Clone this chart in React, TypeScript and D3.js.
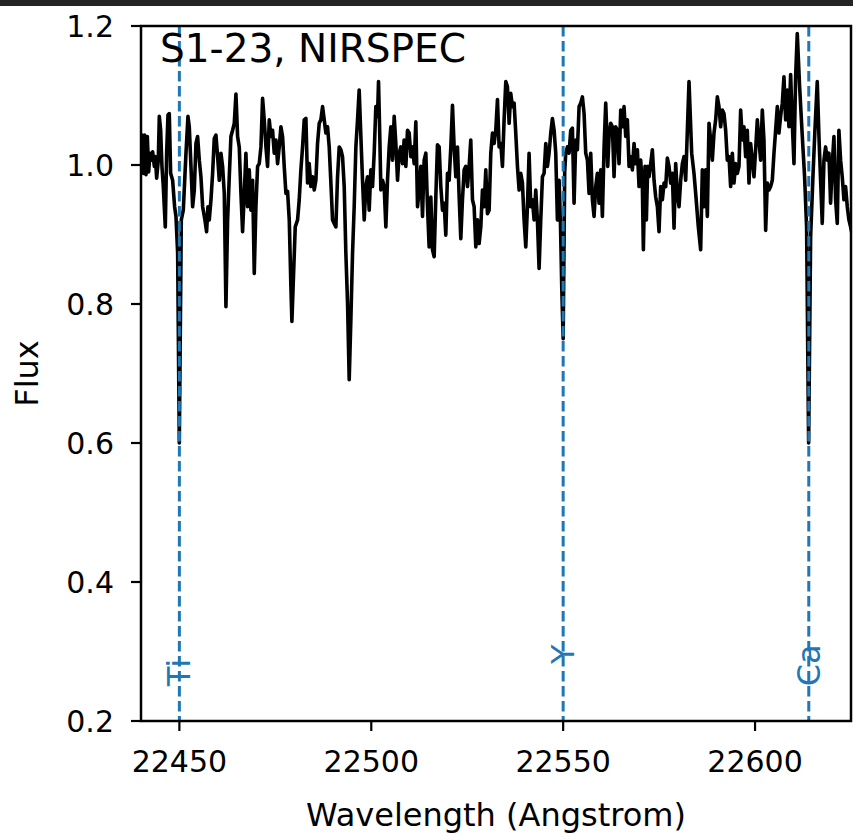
import React from "react";
import * as d3 from "d3";

const wavelength = [
  22439.8, 22440.26, 22440.6, 22440.95, 22441.3, 22441.65, 22441.99, 22442.34, 22442.69, 22443.03, 22443.47, 22443.73, 22444.08, 22444.51, 22444.77, 22445.12, 22445.46, 22445.81, 22446.33, 22446.68, 22447.03, 22447.37, 22447.72, 22448.24, 22448.76, 22449.11, 22449.55, 22449.98, 22450.5, 22451.02, 22451.72, 22452.24, 22452.58, 22453.02, 22453.45, 22453.89, 22454.32, 22454.75, 22455.19, 22455.62, 22456.06, 22456.66, 22457.09, 22457.44, 22457.79, 22458.23, 22458.66, 22459.09, 22459.53, 22459.96, 22460.4, 22460.83, 22461.26, 22461.7, 22462.13, 22462.57, 22463.0, 22463.43, 22463.87, 22464.3, 22464.74, 22465.17, 22465.6, 22466.04, 22466.47, 22466.91, 22467.34,
  22467.77, 22468.21, 22468.64, 22469.08, 22469.51, 22469.94, 22470.38, 22470.81, 22471.25, 22471.68, 22472.11, 22472.55, 22472.98, 22473.42, 22473.85, 22474.28, 22474.72, 22475.15, 22475.59, 22476.02, 22476.46, 22476.89, 22477.32, 22477.76, 22478.19, 22478.63, 22479.06, 22479.32, 22479.67, 22480.19, 22480.8, 22481.23, 22481.66, 22482.1, 22482.53, 22482.97, 22483.4, 22483.83, 22484.27, 22484.7, 22485.14, 22485.57, 22486.0, 22486.44, 22486.87, 22487.31, 22487.74, 22488.17, 22488.61, 22489.04, 22489.48, 22489.91, 22490.34, 22490.78, 22491.21, 22491.65, 22492.08, 22492.51, 22492.95, 22493.38, 22493.82, 22494.25, 22494.68, 22495.12, 22495.55, 22495.99, 22496.42, 22496.85, 22497.29, 22497.72, 22498.16, 22498.59,
  22499.02, 22499.46, 22499.89, 22500.33, 22500.76, 22501.19, 22501.63, 22501.89, 22502.24, 22502.5, 22502.93, 22503.36, 22503.8, 22504.23, 22504.67, 22505.1, 22505.53, 22505.97, 22506.4, 22506.84, 22507.27, 22507.7, 22508.14, 22508.57, 22509.01, 22509.44, 22509.88, 22510.31, 22510.74, 22511.18, 22511.61, 22512.05, 22512.48, 22512.91, 22513.35, 22513.78, 22514.22, 22514.65, 22515.08, 22515.52, 22515.95, 22516.39, 22516.82, 22517.25, 22517.69, 22518.12, 22518.56, 22518.99, 22519.42, 22519.86, 22520.29, 22520.73, 22521.16, 22521.59, 22522.03, 22522.46, 22522.9, 22523.33, 22523.76, 22524.2, 22524.63, 22525.07, 22525.5, 22525.93, 22526.37, 22526.8, 22527.24, 22527.67, 22528.1, 22528.54, 22528.97, 22529.41, 22529.84,
  22530.27, 22530.71, 22531.14, 22531.58, 22532.01, 22532.44, 22532.88, 22533.31, 22533.75, 22534.18, 22534.61, 22535.05, 22535.48, 22535.92, 22536.35, 22536.78, 22537.22, 22537.65, 22538.09, 22538.52, 22538.95, 22539.39, 22539.82, 22540.26, 22540.69, 22541.12, 22541.56, 22541.99, 22542.43, 22542.86, 22543.29, 22543.73, 22544.16, 22544.6, 22545.03, 22545.47, 22545.9, 22546.33, 22546.77, 22547.2, 22547.64, 22548.07, 22548.5, 22548.94, 22549.28, 22549.63, 22550.0, 22550.4, 22550.67, 22551.11, 22551.54, 22551.98, 22552.41, 22552.84, 22553.28, 22553.71, 22554.15, 22554.58, 22555.01, 22555.45, 22555.88, 22556.32, 22556.75, 22557.18, 22557.62, 22558.05, 22558.49, 22558.92, 22559.35, 22559.79, 22560.22, 22560.66, 22561.09,
  22561.35, 22561.61, 22561.96, 22562.39, 22562.83, 22563.26, 22563.69, 22564.13, 22564.56, 22565.0, 22565.43, 22565.86, 22566.3, 22566.73, 22567.17, 22567.6, 22568.03, 22568.47, 22568.9, 22569.34, 22569.77, 22570.2, 22570.64, 22570.9, 22571.33, 22571.68, 22572.03, 22572.38, 22572.81, 22573.24, 22573.68, 22574.11, 22574.55, 22574.98, 22575.41, 22575.85, 22576.28, 22576.72, 22577.15, 22577.58, 22578.02, 22578.45, 22578.89, 22579.32, 22579.75, 22580.19, 22580.62, 22581.06, 22581.49, 22581.92, 22582.36, 22582.79, 22583.49, 22584.09, 22584.53, 22585.22, 22585.83, 22586.26, 22586.7, 22587.13, 22587.57, 22588.0, 22588.43, 22588.87, 22589.3, 22589.74, 22590.17, 22590.6, 22591.04, 22591.47, 22591.91, 22592.34,
  22592.77, 22593.21, 22593.64, 22594.08, 22594.51, 22594.94, 22595.38, 22595.81, 22596.25, 22596.68, 22597.11, 22597.55, 22597.98, 22598.42, 22598.85, 22599.28, 22599.72, 22600.15, 22600.59, 22601.02, 22601.45, 22601.89, 22602.32, 22602.76, 22603.19, 22603.63, 22604.06, 22604.49, 22604.93, 22605.36, 22605.8, 22606.23, 22606.66, 22607.1, 22607.53, 22607.97, 22608.4, 22608.83, 22609.27, 22609.7, 22610.14, 22610.57, 22611.0, 22611.61, 22612.31, 22612.91, 22613.43, 22613.96, 22614.48, 22615.08, 22615.6, 22616.21, 22616.65, 22617.08, 22617.51, 22617.95, 22618.38, 22618.82, 22619.25, 22619.68, 22620.12, 22620.55, 22620.99, 22621.42, 22621.85, 22622.29, 22622.72, 22623.16, 22623.59, 22624.03, 22624.46, 22624.89, 22625.3,
];

const flux = [
  1.03, 1.043, 0.988, 1.043, 0.986, 1.041, 0.99, 1.017, 1.007, 1.019, 0.998, 1.012, 0.981, 1.007, 1.07, 1.05, 0.998, 0.969, 0.911, 1.017, 1.072, 1.074, 0.988, 0.978, 0.94, 0.926, 0.873, 0.6, 0.921, 0.935, 1.017, 1.07, 1.055, 0.998, 0.94, 0.964, 1.031, 1.041, 1.007, 0.983, 0.94, 0.921, 0.904, 0.94, 0.921, 0.95, 0.988, 1.038, 1.043, 1.012, 0.978, 1.017, 0.998, 0.959, 0.796, 0.921, 0.983, 1.041, 1.05, 1.06, 1.102, 1.041, 1.026, 0.959, 0.904, 0.959, 1.017,
  0.94, 0.993, 0.935, 0.978, 0.844, 0.94, 0.998, 1.002, 1.026, 1.096, 1.065, 1.026, 0.998, 1.065, 1.041, 1.05, 1.017, 1.036, 1.002, 1.026, 1.055, 1.041, 0.998, 0.959, 0.962, 0.921, 0.825, 0.775, 0.83, 0.911, 0.921, 0.95, 0.993, 1.026, 1.065, 1.067, 0.974, 1.002, 0.969, 0.983, 0.964, 0.978, 1.031, 1.06, 1.065, 1.084, 1.065, 1.046, 1.055, 1.026, 0.974, 0.921, 0.916, 0.911, 0.983, 1.026, 1.022, 1.012, 0.969, 0.873, 0.801, 0.691, 0.777, 0.873, 0.94, 1.026, 1.065, 1.108, 1.041, 0.978, 0.921, 0.969,
  0.983, 0.935, 0.993, 0.969, 1.017, 1.084, 1.07, 1.12, 1.036, 0.964, 0.978, 0.969, 0.911, 0.978, 1.026, 1.055, 1.007, 1.07, 1.031, 0.978, 1.017, 1.026, 1.002, 1.036, 0.998, 1.05, 1.046, 1.012, 1.026, 1.002, 1.062, 0.94, 0.964, 0.998, 0.926, 1.007, 1.017, 0.94, 0.882, 0.954, 0.878, 0.868, 0.954, 1.029, 1.026, 0.969, 0.935, 0.945, 0.899, 0.988, 0.978, 1.026, 1.086, 1.026, 0.983, 1.026, 0.954, 0.894, 0.95, 0.993, 0.998, 0.969, 0.998, 1.036, 0.95, 0.94, 0.882, 0.921, 0.887, 0.911, 0.964, 0.94, 0.993,
  0.93, 0.935, 1.017, 1.046, 1.031, 1.05, 1.094, 1.026, 1.031, 0.998, 1.065, 1.12, 1.113, 1.06, 1.103, 1.084, 1.089, 1.046, 0.998, 0.964, 0.988, 0.974, 0.921, 0.882, 0.94, 1.017, 0.94, 0.95, 0.921, 0.964, 0.921, 0.851, 0.921, 0.983, 0.988, 1.031, 0.998, 1.017, 1.046, 1.067, 1.05, 1.017, 0.921, 0.978, 0.921, 0.825, 0.75, 0.99, 1.017, 1.026, 1.017, 1.05, 1.053, 0.945, 1.036, 1.022, 1.084, 1.089, 1.098, 1.074, 1.017, 1.007, 0.959, 1.017, 0.95, 0.926, 0.969, 0.988, 0.945, 0.993, 0.926, 1.026, 1.089,
  1.05, 0.998, 1.041, 1.06, 1.055, 0.983, 1.055, 1.05, 1.002, 1.079, 1.055, 1.084, 1.041, 1.065, 0.998, 1.012, 0.993, 1.031, 1.002, 1.022, 0.969, 1.007, 0.969, 0.878, 0.998, 0.921, 0.998, 0.983, 1.002, 1.022, 0.978, 0.954, 0.94, 0.904, 0.969, 0.95, 0.974, 0.969, 1.01, 0.998, 0.974, 0.988, 0.909, 1.002, 0.959, 0.94, 0.978, 1.002, 1.012, 0.978, 1.05, 1.12, 1.017, 0.988, 0.959, 0.911, 0.878, 0.993, 0.94, 0.993, 0.926, 1.06, 1.036, 1.007, 1.046, 1.065, 1.098, 1.084, 1.055, 1.079, 1.074, 1.05,
  1.007, 1.012, 0.969, 1.017, 0.974, 1.002, 0.988, 0.998, 1.079, 1.036, 1.055, 1.012, 1.05, 0.974, 1.031, 1.007, 0.983, 1.022, 1.065, 1.036, 1.007, 1.079, 1.036, 0.906, 0.974, 0.964, 0.969, 0.978, 1.017, 1.05, 1.084, 1.046, 1.07, 1.089, 1.127, 1.065, 1.108, 1.055, 1.13, 1.06, 1.002, 1.127, 1.189, 1.113, 1.041, 0.983, 0.911, 0.6, 0.897, 0.983, 1.05, 1.12, 1.041, 0.978, 0.916, 1.007, 1.026, 1.007, 1.017, 0.945, 1.002, 1.041, 0.95, 0.916, 1.05, 1.007, 0.983, 0.95, 0.969, 0.94, 0.921, 0.911, 0.9,
];

const lineNames = ["Ti", "Y", "Ca"];
const lineWavelengths = [22450, 22550, 22614];
const lineLabelFlux = [0.25, 0.282, 0.25];

const xTicks = [22450, 22500, 22550, 22600];
const yTicks = [0.2, 0.4, 0.6, 0.8, 1.0, 1.2];
const xDomain = [22440, 22625];
const yDomain = [0.2, 1.2];

const title = "S1-23, NIRSPEC";
const xLabel = "Wavelength (Angstrom)";
const yLabel = "Flux";

const W = 853;
const H = 834;
const M = { left: 141, right: 851, top: 26, bottom: 721 };
const FONT = "'DejaVu Sans', sans-serif";
const BLUE = "#1f77b4";

export default function App() {
  const x = d3.scaleLinear().domain(xDomain).range([M.left, M.right]);
  const y = d3.scaleLinear().domain(yDomain).range([M.bottom, M.top]);
  const pts = wavelength.map((w, i) => [w, flux[i]] as [number, number]);
  const line = d3
    .line<[number, number]>()
    .x((d) => x(d[0]))
    .y((d) => y(d[1]));

  return (
    <svg
      width={W}
      height={H}
      style={{ position: "absolute", left: 0, top: 0, display: "block", background: "#fff" }}
      fontFamily={FONT}
    >
      <rect x={0} y={0} width={W} height={H} fill="#fff" />
      <rect x={0} y={0} width={W} height={6} fill="#242424" />
      <defs>
        <clipPath id="plotclip">
          <rect x={M.left} y={M.top} width={M.right - M.left} height={M.bottom - M.top} />
        </clipPath>
      </defs>
      <g clipPath="url(#plotclip)">
        <path d={line(pts) || ""} fill="none" stroke="#000" strokeWidth={3.6} strokeLinejoin="round" />
        {lineWavelengths.map((w, i) => (
          <line
            key={"v" + i}
            x1={x(w)}
            x2={x(w)}
            y1={M.top}
            y2={M.bottom}
            stroke={BLUE}
            strokeWidth={3}
            strokeDasharray="10.5,4.5"
          />
        ))}
      </g>
      {lineNames.map((n, i) => (
        <text
          key={"t" + i}
          transform={`translate(${x(lineWavelengths[i])},${y(lineLabelFlux[i])}) rotate(-90)`}
          fill={BLUE}
          fontSize={32}
          dominantBaseline="central"
          textAnchor="start"
        >
          {n}
        </text>
      ))}
      <text x={160} y={62} fontSize={39} fill="#000">
        {title}
      </text>
      <rect
        x={M.left}
        y={M.top}
        width={M.right - M.left}
        height={M.bottom - M.top}
        fill="none"
        stroke="#000"
        strokeWidth={2.5}
      />
      {xTicks.map((t) => (
        <g key={"xt" + t}>
          <line x1={x(t)} x2={x(t)} y1={M.bottom} y2={M.bottom + 10} stroke="#000" strokeWidth={2.2} />
          <text x={x(t)} y={772} fontSize={30} textAnchor="middle" fill="#000">
            {t}
          </text>
        </g>
      ))}
      {yTicks.map((t) => (
        <g key={"yt" + t}>
          <line x1={M.left - 10} x2={M.left} y1={y(t)} y2={y(t)} stroke="#000" strokeWidth={2.2} />
          <text x={114} y={y(t)} fontSize={30} textAnchor="end" dominantBaseline="central" fill="#000">
            {d3.format(".1f")(t)}
          </text>
        </g>
      ))}
      <text x={(M.left + M.right) / 2} y={826} fontSize={32} textAnchor="middle" fill="#000">
        {xLabel}
      </text>
      <text
        transform={`translate(38,${(M.top + M.bottom) / 2}) rotate(-90)`}
        fontSize={32}
        textAnchor="middle"
        fill="#000"
      >
        {yLabel}
      </text>
    </svg>
  );
}
